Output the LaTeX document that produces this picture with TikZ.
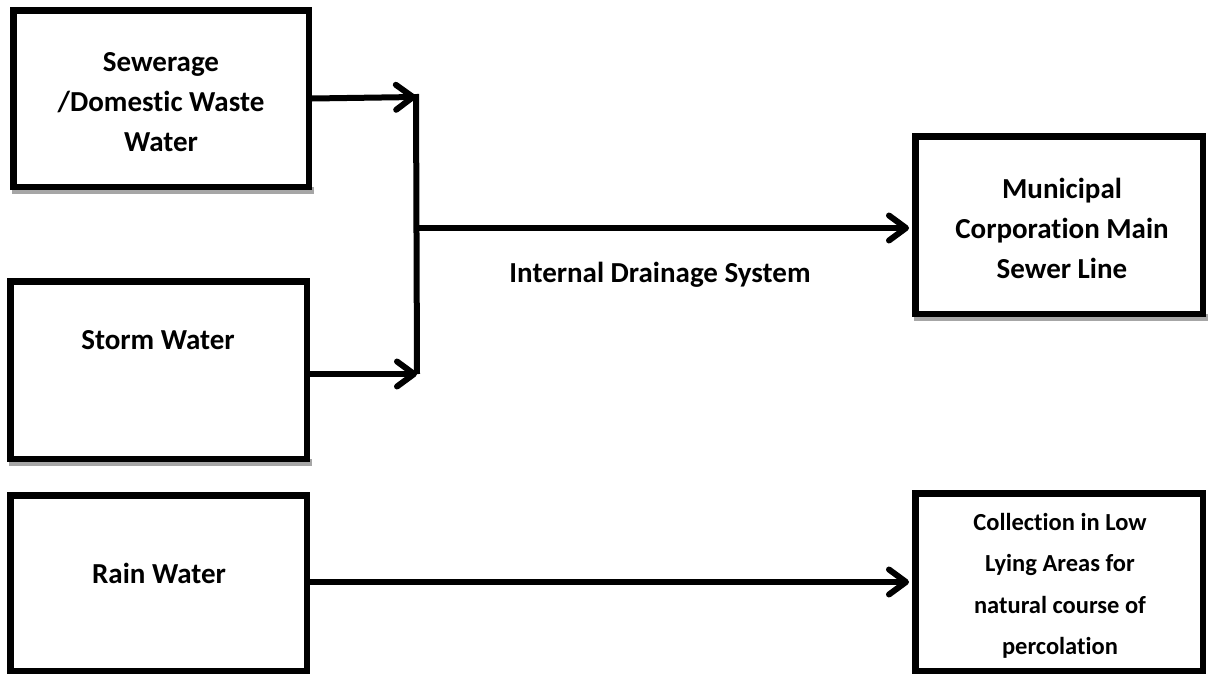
\documentclass[tikz,border=0pt]{standalone}
\usepackage{fontspec}
\setmainfont{Carlito}[Ligatures={NoCommon,NoContextual}]
\usetikzlibrary{arrows.meta}
\begin{document}
\begin{tikzpicture}[x=1pt,y=-1pt,
  boxstyle/.style={draw=black, line width=6.5pt, fill=white, rectangle, inner sep=0pt},
  shadowstyle/.style={fill=black!35, draw=none},
  txt/.style={font=\fontsize{29}{40}\selectfont\bfseries, align=center, inner sep=0pt},
  smalltxt/.style={font=\fontsize{24.5}{41.5}\selectfont\bfseries, align=center, inner sep=0pt},
  conn/.style={line width=6pt, black},
  arr/.style={conn, -{Straight Barb[length=17pt,width=25pt,round]}}]
\fill[white] (0,0) rectangle (1211,675);
\useasboundingbox (0,0) rectangle (1211,675);
% shadows
\fill[shadowstyle] (12,187) rectangle (314,194);
\fill[shadowstyle] (9,459) rectangle (312,466);
\fill[shadowstyle] (914,314) rectangle (1208,321);
% boxes
\node[boxstyle, minimum width=295.5pt, minimum height=176.5pt] (sew) at (161,98.5) {};
\node[boxstyle, minimum width=296.5pt, minimum height=177.5pt] (storm) at (158.5,370) {};
\node[boxstyle, minimum width=296.5pt, minimum height=175.5pt] (rain) at (158.5,583) {};
\node[boxstyle, minimum width=287.5pt, minimum height=177.5pt] (muni) at (1059,225) {};
\node[boxstyle, minimum width=287.5pt, minimum height=177.5pt] (coll) at (1059,582) {};
% texts
\node[txt] (sewt) at (161,102) {Sewerage\\/Domestic Waste\\Water};
\node[txt] (stormt) at (158,340) {Storm Water};
\node[txt] (raint) at (159,573) {Rain Water};
\node[txt] (munit) at (1062,228) {Municipal\\Corporation Main\\Sewer Line};
\node[smalltxt] (collt) at (1060,586) {Collection in Low\\Lying Areas for\\natural course of\\percolation};
\node[txt] (ids) at (660,275) {Internal Drainage System};
% connectors
\coordinate (j1) at (416,97);
\coordinate (j2) at (417,374);
\coordinate (j3) at (416,228);
\coordinate (ry) at (600,582);
\draw[arr] (sew.east) -- (j1);
\draw[conn] ([yshift=3pt]j1) -- (j2);
\draw[arr] (storm.east |- j2) -- (j2);
\draw[arr] (j3) -- ([xshift=-3pt]muni.west |- j3);
\draw[arr] (rain.east |- ry) -- ([xshift=-3pt]coll.west |- ry);
\end{tikzpicture}
\end{document}
